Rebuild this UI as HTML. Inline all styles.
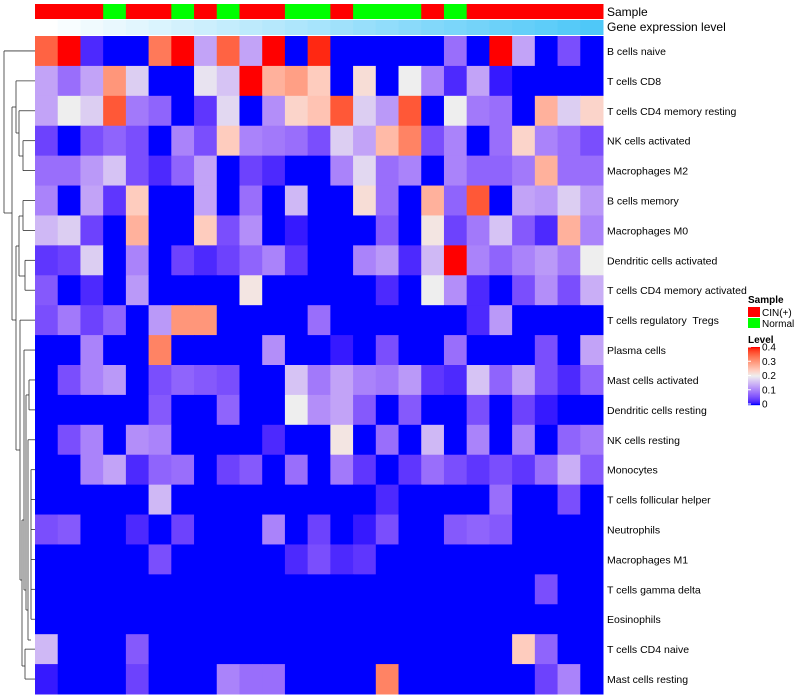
<!DOCTYPE html>
<html><head><meta charset="utf-8"><style>
body{margin:0;background:#fff;}
svg{display:block;font-family:"Liberation Sans",Arial,sans-serif;}
text{white-space:pre;}
</style></head><body>
<svg id="chart" width="800" height="700"></svg>
<script>
const rowLabels=["B cells naive","T cells CD8","T cells CD4 memory resting","NK cells activated","Macrophages M2","B cells memory","Macrophages M0","Dendritic cells activated","T cells CD4 memory activated","T cells regulatory  Tregs","Plasma cells","Mast cells activated","Dendritic cells resting","NK cells resting","Monocytes","T cells follicular helper","Neutrophils","Macrophages M1","T cells gamma delta","Eosinophils","T cells CD4 naive","Mast cells resting"];
const sampleGroups=["CIN","CIN","CIN","Normal","CIN","CIN","Normal","CIN","Normal","CIN","CIN","Normal","Normal","CIN","Normal","Normal","Normal","CIN","Normal","CIN","CIN","CIN","CIN","CIN","CIN"];
const geneLevels=[0,1,2,3,4,5,6,7,8,9,10,11,12,13,14,15,16,17,18,19,20,21,22,23,24];
const legendTicks=[0.4,0.3,0.2,0.1,0];
const values=[
[.35,.4,.02,0,0,.33,.4,.13,.35,.13,.4,0,.39,0,0,0,0,0,.08,0,.4,.13,0,.05,0],
[.13,.08,.13,.3,.17,0,0,.19,.16,.4,.27,.29,.24,0,.22,0,.2,.1,.02,.13,.01,0,0,0,0],
[.13,.2,.17,.36,.09,.07,0,.03,.18,0,.11,.23,.25,.36,.17,.12,.36,0,.2,.09,.08,0,.27,.17,.23],
[.04,0,.05,.07,.05,0,.1,.05,.24,.1,.09,.08,.05,.17,.13,.26,.32,.05,.1,0,.08,.23,.1,.08,.05],
[.08,.08,.12,.16,.05,.02,.07,.13,0,.04,.02,0,0,.1,.18,.08,.1,0,.1,.07,.07,.09,.27,.08,.08],
[.1,0,.13,.03,.24,0,0,.13,0,.08,0,.15,0,0,.22,.08,0,.27,.07,.36,0,.13,.12,.17,.12],
[.15,.17,.04,0,.27,0,0,.24,.05,.11,0,.01,0,0,0,.06,0,.21,.04,.09,.16,.06,.02,.27,.1],
[.03,.04,.17,0,.1,0,.04,.02,.04,.07,.1,.03,0,0,.1,.12,.02,.15,.4,.1,.07,.1,.12,.09,.2],
[.06,0,.02,0,.12,0,0,0,0,.21,0,0,0,0,0,.02,0,.2,.11,.02,0,.05,.11,.05,.14],
[.05,.09,.04,.07,0,.12,.3,.3,0,0,0,0,.08,0,0,0,0,0,0,.02,.12,0,0,0,0],
[0,0,.1,0,0,.32,0,0,0,0,.11,0,0,.01,0,.05,0,0,.08,0,0,0,.05,0,.13],
[0,.05,.1,.12,0,.05,.07,.06,.05,0,0,.16,.09,.13,.1,.09,.12,.03,.02,.16,.07,.13,.05,.02,.07],
[0,0,0,0,0,.06,0,0,.07,0,0,.2,.11,.13,.06,0,.06,0,0,.05,0,.04,.01,0,0],
[0,.05,.1,0,.11,.1,0,0,0,0,.02,0,0,.21,0,.08,0,.15,0,.1,0,.1,0,.07,.09],
[0,0,.1,.13,.02,.07,.08,0,.04,.06,0,.08,0,.09,.03,0,.03,.08,.05,.03,.05,.03,.08,.14,.06],
[0,0,0,0,0,.15,0,0,0,0,0,0,0,0,0,.02,0,0,0,0,.08,0,0,.05,0],
[.05,.06,0,0,.02,0,.04,0,0,0,.1,0,.04,0,.01,.05,0,0,.06,.07,.06,0,0,0,0],
[0,0,0,0,0,.05,0,0,0,0,0,.02,.05,.02,.03,0,0,0,0,0,0,0,0,0,0],
[0,0,0,0,0,0,0,0,0,0,0,0,0,0,0,0,0,0,0,0,0,0,.05,0,0],
[0,0,0,0,0,0,0,0,0,0,0,0,0,0,0,0,0,0,0,0,0,0,0,0,0],
[.15,0,0,0,.06,0,0,0,0,0,0,0,0,0,0,0,0,0,0,0,0,.24,.07,0,0],
[.01,0,0,0,.04,0,0,0,.1,.08,.08,0,0,0,0,.32,0,0,0,0,0,0,.04,.1,0]
];
const NS="http://www.w3.org/2000/svg";
const svg=document.getElementById('chart');
function mk(tag,attrs,parent){const e=document.createElementNS(NS,tag);for(const k in attrs)e.setAttribute(k,attrs[k]);(parent||svg).appendChild(e);return e;}
const X0=35,X1=603,Y0=36,Y1=694;
const nC=geneLevels.length,nR=rowLabels.length;
const cw=(X1-X0)/nC,rh=(Y1-Y0)/nR;
const xs=i=>X0+i*cw, ys=j=>Y0+j*rh;
// Lab interpolation
function s2l(c){c/=255;return c<=0.04045?c/12.92:Math.pow((c+0.055)/1.055,2.4);}
function l2s(c){c=c<=0.0031308?12.92*c:1.055*Math.pow(c,1/2.4)-0.055;return Math.round(Math.max(0,Math.min(1,c))*255);}
function toLab(rgb){const [r,g,b]=rgb.map(s2l);let X=(0.4124*r+0.3576*g+0.1805*b)/0.95047,Y=0.2126*r+0.7152*g+0.0722*b,Z=(0.0193*r+0.1192*g+0.9505*b)/1.08883;
const f=t=>t>0.008856?Math.cbrt(t):7.787*t+16/116;const fx=f(X),fy=f(Y),fz=f(Z);return [116*fy-16,500*(fx-fy),200*(fy-fz)];}
function fromLab(L){const fy=(L[0]+16)/116,fx=fy+L[1]/500,fz=fy-L[2]/200;const fi=t=>t*t*t>0.008856?t*t*t:(t-16/116)/7.787;
const X=fi(fx)*0.95047,Y=fi(fy),Z=fi(fz)*1.08883;
return [l2s(3.2406*X-1.5372*Y-0.4986*Z),l2s(-0.9689*X+1.8758*Y+0.0415*Z),l2s(0.0557*X-0.2040*Y+1.0570*Z)];}
const LB=toLab([0,0,255]),LW=toLab([238,238,238]),LR=toLab([255,0,0]);
function col(v){let t=Math.max(0,Math.min(1,v/0.4));let a,b,u;
 if(t<0.5){a=LB;b=LW;u=t/0.5;}else{a=LW;b=LR;u=(t-0.5)/0.5;}
 const c=fromLab([0,1,2].map(k=>a[k]+(b[k]-a[k])*u));return `rgb(${c[0]},${c[1]},${c[2]})`;}
sampleGroups.forEach((g,i)=>{const r=mk('rect',{x:xs(i),y:4,width:cw+0.5,height:15,fill:g==="CIN"?"#ff0000":"#00ff00"});

});
geneLevels.forEach((g,i)=>{const u=g/(nC-1);const r=mk('rect',{x:xs(i),y:20,width:cw+0.5,height:15,fill:`rgb(${Math.round(255-176*u)},${Math.round(255-55*u)},${Math.round(255-7*u)})`});

});
let t=mk('text',{x:607,y:16,"font-size":12,fill:"#000"});t.textContent="Sample";

t=mk('text',{x:607,y:31,"font-size":12,fill:"#000"});t.textContent="Gene expression level";

values.forEach((row,j)=>{row.forEach((v,i)=>{const r=mk('rect',{x:xs(i),y:ys(j),width:cw+0.5,height:rh+0.5,fill:col(v)});

});
const l=mk('text',{x:607,y:ys(j)+rh/2+4,"font-size":10.5,fill:"#000"});l.textContent=rowLabels[j];

});
const rc=j=>ys(j)+rh/2;
const g=mk('g',{stroke:"#333","stroke-width":0.8,fill:"none"});

const segs=[
[4,rc(0),4,213],[4,rc(0),35,rc(0)],[4,213,12,213],
[12,107,12,320],[12,107,16,107],[16,rc(1),16,133],[16,rc(1),35,rc(1)],[16,133,19,133],
[19,rc(2),19,156],[19,rc(2),35,rc(2)],[19,156,23,156],[23,rc(3),23,rc(4)],[23,rc(3),35,rc(3)],[23,rc(4),35,rc(4)],
[12,320,16,320],[16,246,16,450],[16,246,19,246],[19,216,19,276],[19,216,23,216],[23,rc(5),23,rc(6)],[23,rc(5),35,rc(5)],[23,rc(6),35,rc(6)],
[19,276,25,276],[25,rc(7),25,rc(8)],[25,rc(7),35,rc(7)],[25,rc(8),35,rc(8)],
[16,450,20,450],[20,rc(9),20,580],[20,rc(9),35,rc(9)],[20,580,22,580],[22,520,22,666],[22,666,25,666],[25,rc(20),25,rc(21)],[25,rc(20),35,rc(20)],[25,rc(21),35,rc(21)],
[22,520,24,520],[24,rc(10),24,590],[24,rc(10),35,rc(10)],[24,590,26,590],[26,rc(11)+15,26,610],[26,rc(11)+15,29,rc(11)+15],[29,rc(11),29,rc(12)],[29,rc(11),35,rc(11)],[29,rc(12),35,rc(12)],
[26,610,28,610],[28,rc(13),28,640],[28,rc(13),35,rc(13)],[28,640,31,640],[31,rc(14),31,rc(19)],[31,rc(14),35,rc(14)],[31,rc(15),35,rc(15)],[31,rc(16),35,rc(16)],[31,rc(17),35,rc(17)],[31,rc(18),35,rc(18)],[31,rc(19),35,rc(19)]
];
segs.forEach(s=>mk('line',{x1:s[0],y1:s[1],x2:s[2],y2:s[3]},g));
t=mk('text',{x:748,y:303,"font-size":10,"font-weight":"bold"});t.textContent="Sample";

let r=mk('rect',{x:748,y:307,width:12,height:10,fill:"#ff0000"});
t=mk('text',{x:762,y:316,"font-size":10});t.textContent="CIN(+)";
r=mk('rect',{x:748,y:318,width:12,height:10,fill:"#00ff00"});
t=mk('text',{x:762,y:327,"font-size":10});t.textContent="Normal";
t=mk('text',{x:748,y:343,"font-size":10,"font-weight":"bold"});t.textContent="Level";

for(let k=0;k<58;k++){const rr=mk('rect',{x:748,y:347+k,width:12,height:1.2,fill:col(0.4*(1-k/57))});}
legendTicks.forEach(v=>{const yy=347+(0.4-v)/0.4*57;
mk('line',{x1:748,x2:751,y1:yy,y2:yy,stroke:"#fff"});
const tt=mk('text',{x:762,y:yy+3.5,"font-size":10});tt.textContent=String(v);

});
</script>
</body></html>
